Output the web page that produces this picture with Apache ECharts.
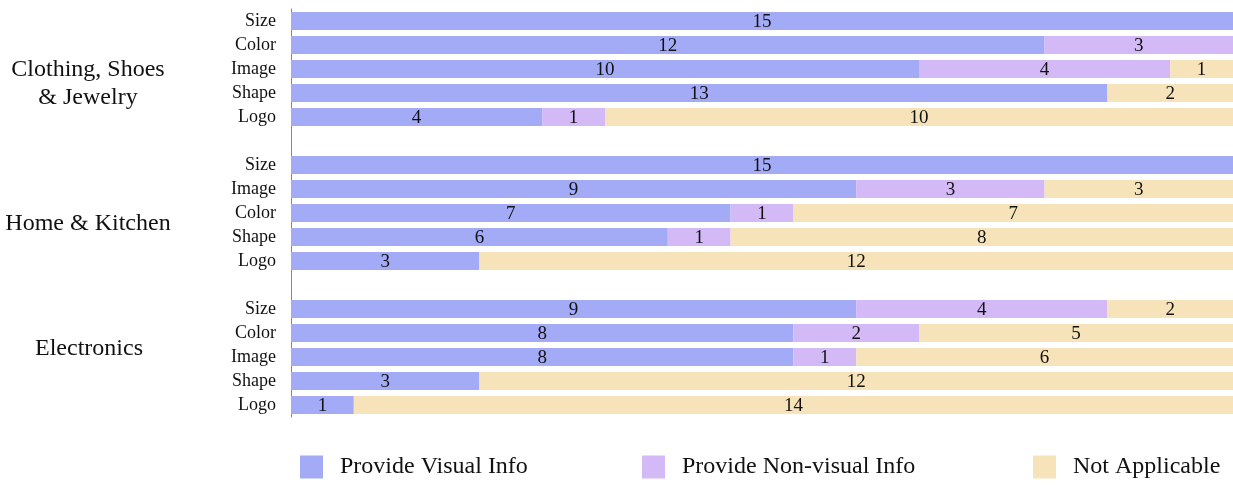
<!DOCTYPE html>
<html><head><meta charset="utf-8">
<script src="https://cdn.jsdelivr.net/npm/echarts@6/dist/echarts.min.js"></script>
<style>html,body{margin:0;padding:0;background:#fff}#c{width:1233px;height:485px}</style>
</head><body><div id="c"></div>
<script>
const categories = ['Size','Color','Image','Shape','Logo','', 'Size','Image','Color','Shape','Logo','', 'Size','Color','Image','Shape','Logo'];
const visualInfo = [15,12,10,13,4, null, 15,9,7,6,3, null, 9,8,8,3,1];
const nonVisualInfo = [0,3,4,0,1, null, 0,3,1,1,0, null, 4,2,1,0,0];
const notApplicable = [0,0,1,2,10, null, 0,3,7,8,12, null, 2,5,6,12,14];
const seriesNames = ['Provide Visual Info','Provide Non-visual Info','Not Applicable'];
const groupNames = ['Clothing, Shoes\n& Jewelry','Home & Kitchen','Electronics'];
const colors = ['#a3aaf6','#d3b9f6','#f6e3b9'];
const FONT = '"Liberation Serif","DejaVu Serif",serif';

const chart = echarts.init(document.getElementById('c'));
function mk(name, data, color){
  return {
    name, type:'bar', stack:'all', data, barWidth:18,
    itemStyle:{color},
    label:{show:true, position:'inside', offset:[0,1], color:'#111', fontFamily:FONT, fontSize:19,
      formatter:p => (p.value > 0 ? String(p.value) : '')},
    emphasis:{disabled:true}
  };
}
const legendX = [300, 642, 1033];
chart.setOption({
  animation:false,
  grid:{left:291, right:0, top:9, bottom:68, containLabel:false},
  xAxis:{type:'value', min:0, max:15, show:false},
  yAxis:{type:'category', data:categories, inverse:true,
    axisLine:{show:true, lineStyle:{color:'#888', width:1}},
    axisTick:{show:false},
    axisLabel:{color:'#111', fontFamily:FONT, fontSize:18, margin:15, padding:[2,0,0,0]}},
  legend: seriesNames.map((n,i)=>({
    data:[n], left:legendX[i], top:455, padding:0, itemWidth:23, itemHeight:23, icon:'rect',
    textStyle:{color:'#111', fontFamily:FONT, fontSize:24, padding:[0,0,0,12]}
  })),
  graphic:[
    {type:'text', style:{text:groupNames[0], x:88, y:84, textAlign:'center', textVerticalAlign:'middle', font:'24px '+FONT, fill:'#111', lineHeight:28}},
    {type:'text', style:{text:groupNames[1], x:88, y:223.5, textAlign:'center', textVerticalAlign:'middle', font:'24px '+FONT, fill:'#111'}},
    {type:'text', style:{text:groupNames[2], x:89, y:349, textAlign:'center', textVerticalAlign:'middle', font:'24px '+FONT, fill:'#111'}}
  ],
  series:[
    mk(seriesNames[0], visualInfo, colors[0]),
    mk(seriesNames[1], nonVisualInfo, colors[1]),
    mk(seriesNames[2], notApplicable, colors[2])
  ]
});
</script></body></html>
